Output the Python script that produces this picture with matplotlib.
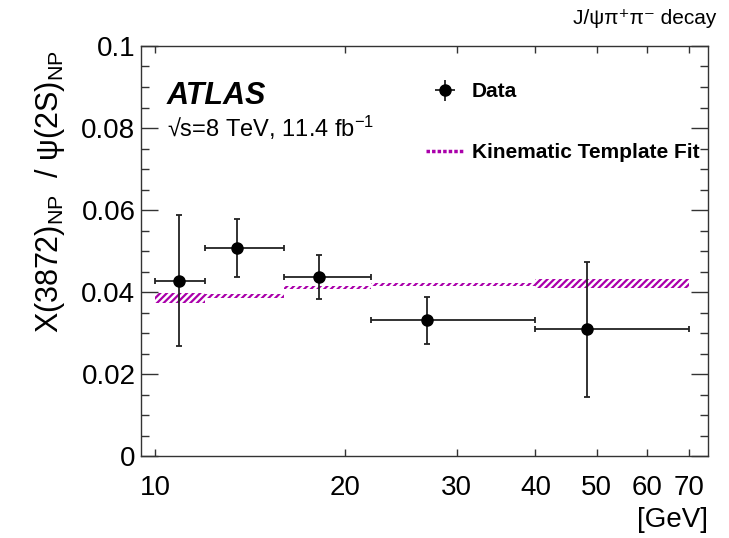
import numpy as np
import matplotlib
matplotlib.use("Agg")
import matplotlib.pyplot as plt
from matplotlib.lines import Line2D
from matplotlib.ticker import FixedLocator, MultipleLocator, NullFormatter, FuncFormatter

plt.rcParams["font.family"] = ["Liberation Sans", "DejaVu Sans"]
plt.rcParams["mathtext.fontset"] = "custom"
plt.rcParams["mathtext.rm"] = "Liberation Sans"
plt.rcParams["mathtext.it"] = "Liberation Sans:italic"
plt.rcParams["mathtext.bf"] = "Liberation Sans:bold"
plt.rcParams["hatch.linewidth"] = 1.6

# pT bin edges [GeV]
bin_edges = [10, 12, 16, 22, 40, 70]
# data: point position, ratio, asymmetric errors
data_x = [10.9, 13.5, 18.2, 26.9, 48.2]
data_y = [0.0428, 0.0508, 0.0436, 0.0331, 0.0309]
err_up = [0.0159, 0.0071, 0.0055, 0.0058, 0.0165]
err_dn = [0.0160, 0.0072, 0.0053, 0.0058, 0.0165]
# kinematic template fit band (low, high) per bin
fit_lo = [0.0374, 0.0386, 0.0407, 0.0414, 0.0410]
fit_hi = [0.0397, 0.0396, 0.0414, 0.0423, 0.0431]

MAGENTA = "#aa00aa"

fig = plt.figure(figsize=(7.29, 5.38), dpi=100)
ax = fig.add_axes([0.1934, 0.1524, 0.7778, 0.7621])

edges = np.array(bin_edges, dtype=float)
lo = np.array(fit_lo)
hi = np.array(fit_hi)
ax.bar(edges[:-1], hi - lo, width=np.diff(edges), bottom=lo, align="edge",
       facecolor="none", edgecolor=MAGENTA, hatch="/////", linewidth=0)

x = np.array(data_x)
xerr = np.vstack([x - edges[:-1], edges[1:] - x])
ax.errorbar(x, data_y, xerr=xerr, yerr=[err_dn, err_up], fmt="o",
            color="black", ms=8, ecolor="#222222", elinewidth=1.3,
            capsize=2.5, capthick=1.3)

ax.set_xscale("log")
ax.set_xlim(9.5, 75)
ax.set_ylim(0, 0.1)

xt = [10, 20, 30, 40, 50, 60, 70]
ax.xaxis.set_major_locator(FixedLocator(xt))
ax.xaxis.set_major_formatter(FuncFormatter(lambda v, p: f"{v:g}"))
ax.xaxis.set_minor_formatter(NullFormatter())
ax.xaxis.set_minor_locator(FixedLocator([]))
ax.yaxis.set_major_locator(MultipleLocator(0.02))
ax.yaxis.set_minor_locator(MultipleLocator(0.005))
ax.yaxis.set_major_formatter(FuncFormatter(lambda v, p: f"{v:g}"))

ax.tick_params(axis="both", which="both", direction="in", top=True, right=True,
               labelsize=20, width=1.0, color="#333333")
ax.tick_params(axis="y", which="major", length=12, pad=4)
ax.tick_params(axis="y", which="minor", length=6)
ax.tick_params(axis="x", which="major", length=5, pad=14)
for sp in ax.spines.values():
    sp.set_linewidth(1.0)
    sp.set_color("#333333")

ax.set_ylabel("X(3872)$_{\\mathrm{NP}}$  / ψ(2S)$_{\\mathrm{NP}}$", fontsize=22,
              loc="top", labelpad=10)
ax.yaxis.label.set_y(0.99)
ax.set_xlabel("[GeV]", fontsize=20, loc="right", labelpad=4)

ax.text(0.045, 0.877, "ATLAS", transform=ax.transAxes, fontsize=22,
        fontweight="bold", fontstyle="italic", va="center")
ax.text(0.045, 0.80, "√s=8 TeV, 11.4 fb$^{-1}$", transform=ax.transAxes,
        fontsize=17, va="center")
fig.text(0.982, 0.965, "J/ψπ⁺π⁻ decay", fontsize=15, ha="right", va="center")

h_data = ax.errorbar([], [], xerr=[], yerr=[], fmt="o", color="black", ms=8,
                     ecolor="#222222", elinewidth=1.3, capsize=0)
h_fit = Line2D([], [], color=MAGENTA, ls=(0, (1, 0.6)), lw=2.5)
leg = ax.legend([h_data, h_fit], ["Data", "Kinematic Template Fit"],
                loc="upper left", bbox_to_anchor=(0.47, 0.957), frameon=False,
                prop={"weight": "bold", "size": 15}, handlelength=1.8,
                handletextpad=0.4, labelspacing=2.0)

fig.savefig("out.png", dpi=100)
